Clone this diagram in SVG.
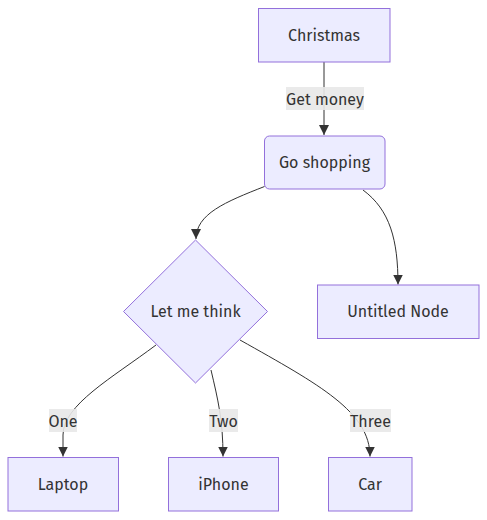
<svg xmlns="http://www.w3.org/2000/svg" width="487" height="520" viewBox="0 0 487 520">
<style>
.node rect, .node polygon { fill: #ECECFF; stroke: #9370DB; stroke-width: 1; }
text { font-family: "Fira Sans", "Noto Sans", "Open Sans", sans-serif; font-size: 16px; fill: #333; text-anchor: middle; dominant-baseline: central; }
.edge { fill: none; stroke: #333; stroke-width: 1; }
.lbl { fill: #e8e8e8; opacity: 0.9; }
</style>
<defs>
<marker id="arrow" viewBox="0 0 10 10" refX="10" refY="5" markerUnits="userSpaceOnUse" markerWidth="10" markerHeight="10" orient="auto">
<path d="M0,0 L10,5 L0,10 z" fill="#333"/>
</marker>
</defs>
<rect width="487" height="520" fill="#ffffff"/>
<g id="connectors">
<path class="edge" d="M324,62 L324,135" marker-end="url(#arrow)"/>
<path class="edge" d="M264.5,186.5 C225,202 196,214 196,239" marker-end="url(#arrow)"/>
<path class="edge" d="M363,190 C390,210 398,240 398,284.5" marker-end="url(#arrow)"/>
<path class="edge" d="M156,345 C112,378 63,405 63,435 L63,456.5" marker-end="url(#arrow)"/>
<path class="edge" d="M211,370 C218,400 223,420 223,456.5" marker-end="url(#arrow)"/>
<path class="edge" d="M240,340 C320,385 370,412 370,456.5" marker-end="url(#arrow)"/>
<g id="edge-labels">
<rect class="lbl" x="286" y="87" width="78" height="23"/>
<text x="325" y="99">Get money</text>
<rect class="lbl" x="49" y="409" width="28" height="23"/>
<text x="63" y="421">One</text>
<rect class="lbl" x="209" y="409" width="29" height="23"/>
<text x="223.5" y="421">Two</text>
<rect class="lbl" x="350" y="409" width="41" height="23"/>
<text x="370.5" y="421">Three</text>
</g>
</g>
<g id="christmas" class="node">
<rect x="258.5" y="8.5" width="131.5" height="53.5"/>
<text x="324" y="35">Christmas</text>
</g>
<g id="goshopping" class="node">
<rect x="264.5" y="136" width="120.5" height="53" rx="5" ry="5"/>
<text x="324.5" y="162.5">Go shopping</text>
</g>
<g id="letmethink" class="node">
<polygon points="195.5,240 267.5,311.5 195.5,383 123.5,311.5"/>
<text x="195.5" y="311.5">Let me think</text>
</g>
<g id="untitled" class="node">
<rect x="317.5" y="285" width="161.5" height="53.5"/>
<text x="398" y="311.5">Untitled Node</text>
</g>
<g id="laptop" class="node">
<rect x="8" y="457.5" width="110.5" height="53.5"/>
<text x="63" y="484">Laptop</text>
</g>
<g id="iphone" class="node">
<rect x="168.5" y="457.5" width="110" height="53.5"/>
<text x="223.5" y="484">iPhone</text>
</g>
<g id="car" class="node">
<rect x="328.5" y="457.5" width="83.5" height="53.5"/>
<text x="370" y="484">Car</text>
</g>
</svg>
